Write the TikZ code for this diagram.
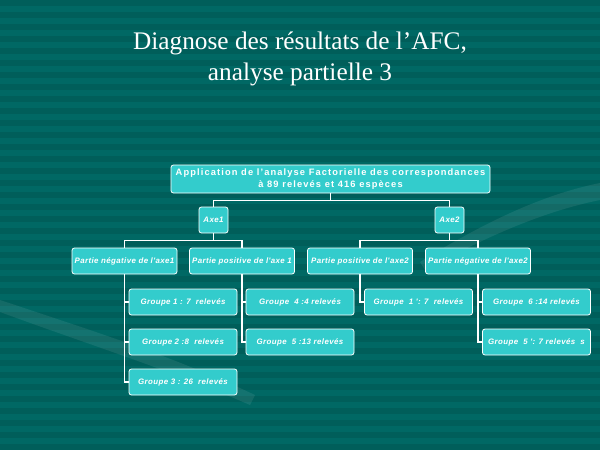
\documentclass[tikz,border=0pt]{standalone}
\usepackage{fontspec}
\setmainfont{Liberation Serif}
\newfontfamily\chartfont[LetterSpace=5]{Liberation Sans}
\newfontfamily\widefont[LetterSpace=12]{Liberation Sans}
\definecolor{slide bg}{RGB}{0,104,100}
\definecolor{slide band}{RGB}{0,94,90}
\definecolor{box fill}{RGB}{51,204,204}
\begin{document}
\begin{tikzpicture}
[x=1pt,y=-1pt,
chart box/.style={draw=white,line width=0.8pt,fill=box fill,rounded corners=2.5pt,inner sep=0pt,text=white,align=center},
small text/.style={font=\chartfont\bfseries\itshape\fontsize{7.9}{8}\selectfont},
axe box/.style={chart box,small text,minimum width=29pt,minimum height=26pt},
part box/.style={chart box,small text,minimum width=105pt,minimum height=26pt},
group box/.style={chart box,small text,minimum width=108pt,minimum height=26pt},
link/.style={draw=white,line width=1.2pt}]
\fill[slide bg] (0,0) rectangle (600,450);
\foreach \y in {0,12,...,444}
  \fill[slide band] (0,\y) rectangle (600,\y+6);
\fill[white,opacity=0.08] (0,312) .. controls (90,345) and (170,370) .. (250,405) -- (255,395) .. controls (170,355) and (90,330) .. (0,300) -- cycle;
\fill[white,opacity=0.08] (420,262) .. controls (480,225) and (540,195) .. (600,183) -- (600,200) .. controls (540,212) and (480,240) .. (425,270) -- cycle;
\node[text=white,align=center,font=\fontsize{25.3}{31}\selectfont] (title) at (300,59)
  {Diagnose des résultats de l’AFC,\\analyse partielle 3};
\node[chart box,minimum width=319pt,minimum height=28pt,font=\widefont\bfseries\fontsize{9.3}{12}\selectfont] (root) at (330.5,179)
  {Application de l’analyse Factorielle des correspondances\\à 89 relevés et 416 espèces};
\node[axe box] (axeA) at (213.5,220) {Axe1};
\node[axe box] (axeB) at (449.5,220) {Axe2};
\node[part box] (negA) at (124.5,261) {Partie négative de l'axe1};
\node[part box] (posA) at (242,261) {Partie positive de l'axe 1};
\node[part box] (posB) at (360,261) {Partie positive de l'axe2};
\node[part box] (negB) at (478,261) {Partie négative de l'axe2};
\node[group box] (grpA) at (183,302) {Groupe 1 : 7~ relevés};
\node[group box] (grpB) at (183,342) {Groupe 2 :8~ relevés};
\node[group box] (grpC) at (183,382) {Groupe 3 : 26~ relevés};
\node[group box] (grpD) at (300,302) {Groupe~ 4 :4 relevés};
\node[group box] (grpE) at (300,342) {Groupe~ 5 :13 relevés};
\node[group box] (grpF) at (418.5,302) {Groupe~ 1 ': 7~ relevés};
\node[group box] (grpG) at (536.5,302) {Groupe~ 6 :14 relevés};
\node[group box] (grpH) at (536.5,342) {Groupe~ 5 ': 7 relevés~ s};
\draw[link] (root.south) -- ++(0,7) -| (axeA.north);
\draw[link] (root.south) -- ++(0,7) -| (axeB.north);
\draw[link] (axeA.south) -- ++(0,7) -| (negA.north);
\draw[link] (axeA.south) -- ++(0,7) -| (posA.north);
\draw[link] (axeB.south) -- ++(0,7) -| (posB.north);
\draw[link] (axeB.south) -- ++(0,7) -| (negB.north);
\draw[link] (negA.south) |- (grpA.west);
\draw[link] (negA.south) |- (grpB.west);
\draw[link] (negA.south) |- (grpC.west);
\draw[link] (posA.south) |- (grpD.west);
\draw[link] (posA.south) |- (grpE.west);
\draw[link] (posB.south) |- (grpF.west);
\draw[link] (negB.south) |- (grpG.west);
\draw[link] (negB.south) |- (grpH.west);
\end{tikzpicture}
\end{document}
